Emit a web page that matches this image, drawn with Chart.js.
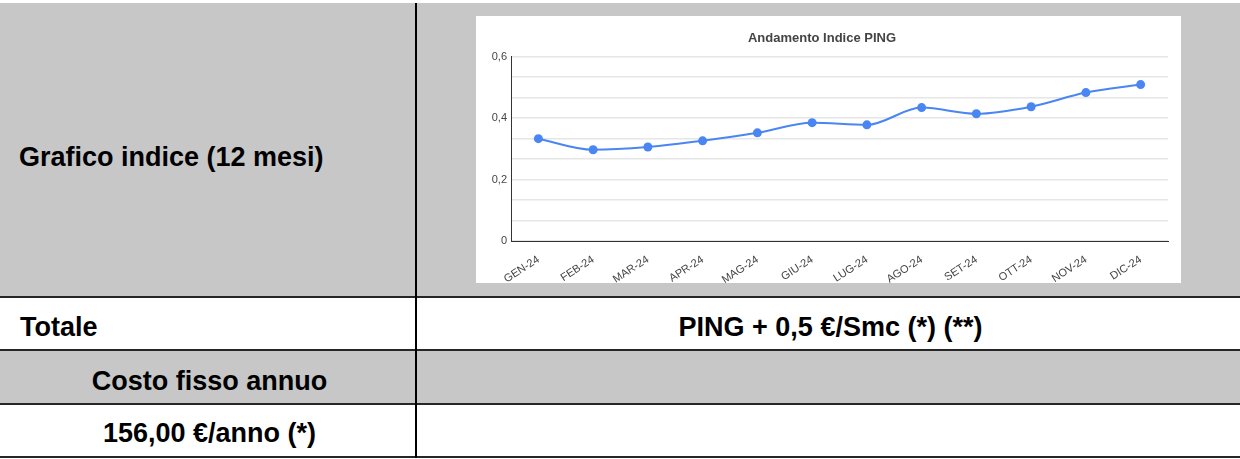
<!DOCTYPE html>
<html lang="it">
<head>
<meta charset="utf-8">
<script src="https://cdn.jsdelivr.net/npm/chart.js@4.4.1/dist/chart.umd.min.js"></script>
<style>
  body { margin: 0; background: #fff; font-family: "Liberation Sans", Arial, sans-serif; }
  .pagina { position: relative; width: 1240px; height: 459px; overflow: hidden; }
  .cella { position: absolute; display: flex; align-items: center; font-weight: bold; font-size: 27px; color: #000; box-sizing: border-box; white-space: nowrap; }
  .grigio { background: #c7c7c7; }
  .linea { position: absolute; background: #262626; }
  .box-grafico { position: absolute; left: 476px; top: 16px; width: 705px; height: 267px; background: #fff; }
</style>
</head>
<body>
<div class="pagina">
  <!-- riga 1 -->
  <div class="cella grigio" style="left:0;top:3px;width:1240px;height:293px;"></div>
  <div class="cella" style="left:19px;top:11px;width:395px;height:293px;">Grafico indice (12 mesi)</div>
  <!-- riga 2 -->
  <div class="cella" style="left:20px;top:302px;width:390px;height:51px;">Totale</div>
  <div class="cella" style="left:419px;top:302px;width:823px;height:51px;justify-content:center;">PING + 0,5 €/Smc (*) (**)</div>
  <!-- riga 3 -->
  <div class="cella grigio" style="left:0;top:351px;width:1240px;height:52px;"></div>
  <div class="cella" style="left:2px;top:355px;width:415px;height:52px;justify-content:center;">Costo fisso annuo</div>
  <!-- riga 4 -->
  <div class="cella" style="left:2px;top:408px;width:415px;height:51px;justify-content:center;">156,00 €/anno (*)</div>

  <div class="linea" style="left:0;top:296px;width:1240px;height:2px;"></div>
  <div class="linea" style="left:0;top:349px;width:1240px;height:2px;"></div>
  <div class="linea" style="left:0;top:403px;width:1240px;height:2px;"></div>
  <div class="linea" style="left:0;top:456px;width:1240px;height:2px;"></div>
  <div class="linea" style="left:415px;top:3px;width:2px;height:455px;background:#000;"></div>

  <div class="box-grafico"><canvas id="graficoPing"></canvas></div>
</div>

<script>
/* Dati */
const mesi = ["GEN-24", "FEB-24", "MAR-24", "APR-24", "MAG-24", "GIU-24", "LUG-24", "AGO-24", "SET-24", "OTT-24", "NOV-24", "DIC-24"]
const valoriPing = [0.333, 0.297, 0.306, 0.326, 0.352, 0.385, 0.378, 0.434, 0.414, 0.437, 0.483, 0.509]
const tickPrincipali = [0, 0.2, 0.4, 0.6]
const suddivisioni = 3

const blu = "#4a86f3"
const fontGrafico = 'Liberation Sans, Arial, sans-serif'

/* Griglia: tick principali + linee minori */
function costruisciTick(scala) {
    let ticks = []
    for (let i = 0; i < tickPrincipali.length; i++) {
        ticks.push({ value: tickPrincipali[i], major: true })
        if (i < tickPrincipali.length - 1) {
            let passo = (tickPrincipali[i + 1] - tickPrincipali[i]) / suddivisioni
            for (let k = 1; k < suddivisioni; k++) {
                ticks.push({ value: tickPrincipali[i] + passo * k, major: false })
            }
        }
    }
    scala.ticks = ticks
}

const graficoPing = document.getElementById("graficoPing")
const graficoIndice = new Chart(graficoPing, {
    type: 'line',
    data: {
      labels: mesi,
      datasets: [{
        label: 'PING',
        data: valoriPing,
        borderColor: blu,
        backgroundColor: blu,
        borderWidth: 2,
        pointRadius: 4.5,
        pointHoverRadius: 4.5,
        pointBackgroundColor: blu,
        pointBorderWidth: 0,
        cubicInterpolationMode: 'monotone',
        tension: 0.4
      }]
    },
    options: {
      responsive: true,
      maintainAspectRatio: false,
      animation: false,
      layout: { padding: { left: 0, right: 13, top: 0, bottom: 0 } },
      plugins: {
        legend: { display: false },
        tooltip: { enabled: false },
        title: {
          display: true,
          text: 'Andamento Indice PING',
          color: '#444',
          font: { family: fontGrafico, size: 13, weight: 'bold' },
          padding: { top: 15, bottom: 10 }
        }
      },
      scales: {
        x: {
          offset: true,
          grid: { display: false },
          border: { display: true, color: '#333', width: 1 },
          ticks: {
            color: '#444',
            font: { family: fontGrafico, size: 11 },
            maxRotation: 33,
            minRotation: 33,
            autoSkip: false,
            padding: 4
          },
          afterFit: (s) => { s.height = 42 }
        },
        y: {
          min: 0,
          max: 0.6,
          afterBuildTicks: costruisciTick,
          grid: { color: '#e6e6e6', lineWidth: 1.5, drawTicks: false },
          border: { display: true, color: '#333', width: 1 },
          ticks: {
            color: '#444',
            font: { family: fontGrafico, size: 11 },
            padding: 4,
            callback: function (valore, indice, ticks) {
                if (!ticks[indice].major) return ''
                return valore === 0 ? '0' : valore.toFixed(1).replace('.', ',')
            }
          },
          afterFit: (s) => { s.width = 35 }
        }
      }
    }
});
</script>
</body>
</html>
